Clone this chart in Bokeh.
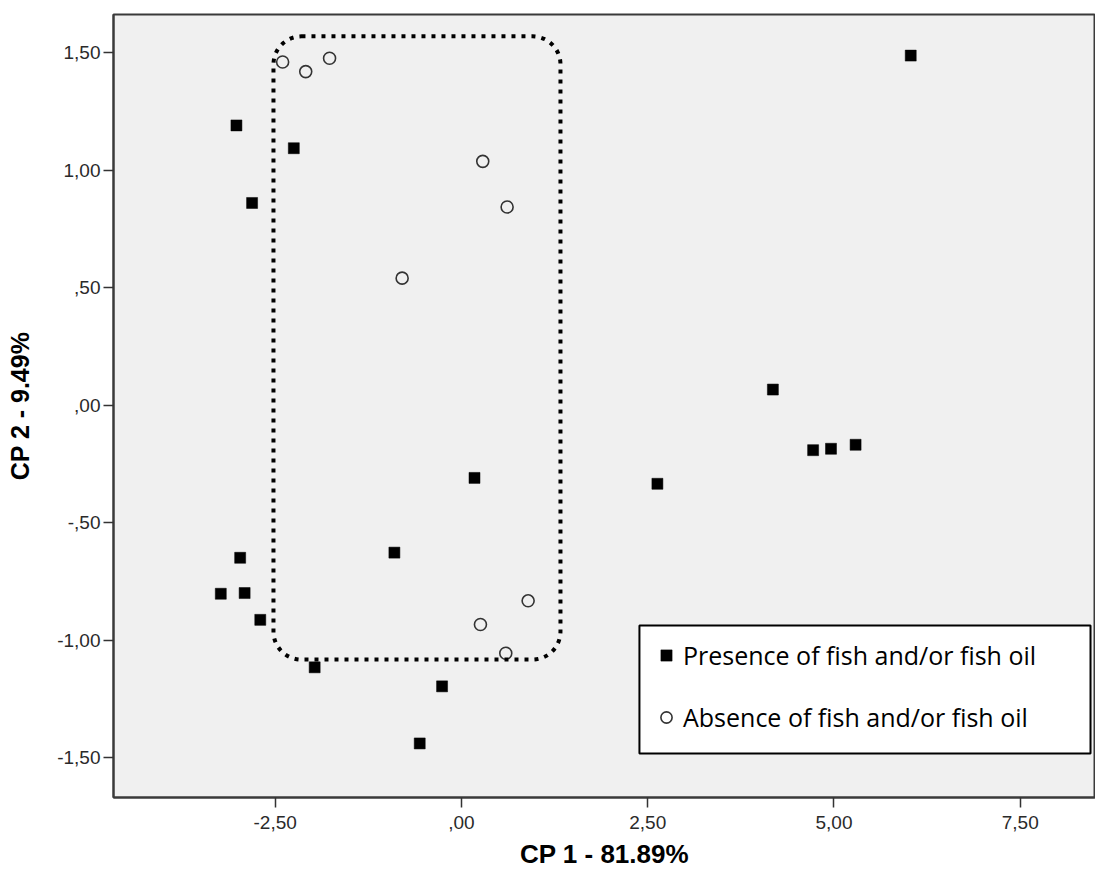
from bokeh.plotting import figure
from bokeh.models import (Range1d, FixedTicker, BoxAnnotation, Legend, LegendItem,
                          ColumnDataSource)
from bokeh.embed import file_html
from bokeh.resources import INLINE

# ---- data ----
presence_x = [6.03, -3.02, -2.25, -2.81, 4.18, 4.72, 4.96, 5.29, 0.175, 2.63,
              -0.90, -2.97, -3.23, -2.91, -2.70, -1.97, -0.26, -0.56]
presence_y = [1.487, 1.19, 1.093, 0.86, 0.066, -0.192, -0.186, -0.169, -0.31, -0.335,
              -0.628, -0.65, -0.803, -0.80, -0.914, -1.116, -1.197, -1.44]

absence_x = [-2.40, -2.09, -1.77, 0.286, 0.613, -0.796, 0.895, 0.255, 0.595]
absence_y = [1.46, 1.419, 1.476, 1.037, 0.843, 0.54, -0.833, -0.934, -1.056]

series_labels = ["Presence of fish and/or fish oil", "Absence of fish and/or fish oil"]

x_ticks = [-2.5, 0.0, 2.5, 5.0, 7.5]
x_tick_labels = ["-2,50", ",00", "2,50", "5,00", "7,50"]
y_ticks = [-1.5, -1.0, -0.5, 0.0, 0.5, 1.0, 1.5]
y_tick_labels = ["-1,50", "-1,00", "-,50", ",00", ",50", "1,00", "1,50"]

x_title = "CP 1 - 81.89%"
y_title = "CP 2 - 9.49%"

# highlighted group (dotted rounded box), data units
group_box = dict(left=-2.523, right=1.329, top=1.569, bottom=-1.083)
# legend frame, data units
legend_box = dict(left=2.389, right=8.443, top=-0.938, bottom=-1.483)

# ---- figure ----
p = figure(width=1095, height=874, output_backend="svg", toolbar_location=None,
           x_range=Range1d(-4.67, 8.51), y_range=Range1d(-1.670, 1.662),
           min_border_left=113, min_border_right=0, min_border_top=14,
           min_border_bottom=77)

p.background_fill_color = "#f0f0f0"
p.border_fill_color = "white"
p.outline_line_color = "#3a3a3a"
p.outline_line_width = 2
p.xgrid.visible = False
p.ygrid.visible = False

src_p = ColumnDataSource(dict(x=presence_x, y=presence_y))
src_a = ColumnDataSource(dict(x=absence_x, y=absence_y))

r_p = p.scatter("x", "y", source=src_p, marker="square", size=11,
                fill_color="black", line_color="black", line_width=0.5)
r_a = p.scatter("x", "y", source=src_a, marker="circle", size=12,
                fill_color=None, line_color="#333333", line_width=1.6)

grp = BoxAnnotation(**group_box, fill_alpha=0, line_color="black", line_alpha=1,
                    line_width=4, line_dash="4 6", border_radius=28, level="overlay")
p.add_layout(grp)

lb = BoxAnnotation(**legend_box, fill_color="white", fill_alpha=1,
                   line_color="black", line_alpha=1, line_width=2, level="annotation")
p.add_layout(lb)

legend = Legend(items=[LegendItem(label=series_labels[0], renderers=[r_p]),
                       LegendItem(label=series_labels[1], renderers=[r_a])],
                location=(539, 61), padding=14, spacing=24,
                glyph_width=28, glyph_height=38, label_height=38, label_width=392,
                label_standoff=3, border_line_color=None, background_fill_alpha=0,
                label_text_font="Open Sans", label_text_font_size="25px",
                label_text_color="black", margin=0)
p.add_layout(legend)

for ax, ticks, labels in ((p.xaxis[0], x_ticks, x_tick_labels),
                          (p.yaxis[0], y_ticks, y_tick_labels)):
    ax.ticker = FixedTicker(ticks=ticks)
    ax.major_label_overrides = {t: l for t, l in zip(ticks, labels)}
    ax.minor_tick_line_color = None
    ax.major_tick_in = 0
    ax.major_tick_out = 10
    ax.major_tick_line_color = "#333333"
    ax.major_tick_line_width = 1.5
    ax.axis_line_color = "#3a3a3a"
    ax.axis_line_width = 2
    ax.major_label_text_font = "Liberation Sans"
    ax.major_label_text_font_size = "19px"
    ax.major_label_text_color = "#2a2a2a"
    ax.axis_label_text_font = "Liberation Sans"
    ax.axis_label_text_font_style = "bold"
    ax.axis_label_text_color = "black"

p.xaxis.axis_label = x_title
p.yaxis.axis_label = y_title
p.xaxis.axis_label_text_font_size = "26px"
p.yaxis.axis_label_text_font_size = "25px"
p.xaxis.major_label_standoff = 8
p.xaxis.axis_label_standoff = 7
p.yaxis.major_label_standoff = 3
p.yaxis.axis_label_standoff = 20

open("out.html", "w").write(file_html(p, INLINE))
